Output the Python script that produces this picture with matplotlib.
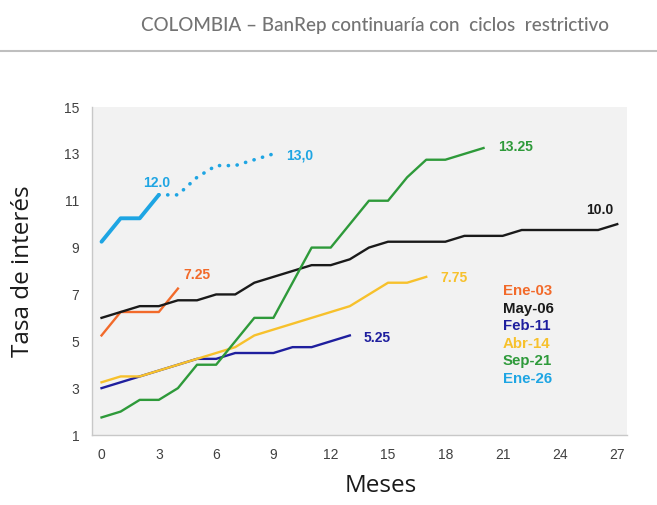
import matplotlib.pyplot as plt
from matplotlib.lines import Line2D

# monthly policy rate paths for each tightening cycle
ene03 = [5.25, 6.25, 6.25, 6.25, 7.25]
may06 = [6.0, 6.25, 6.5, 6.5, 6.75, 6.75, 7.0, 7.0, 7.5, 7.75, 8.0, 8.25, 8.25, 8.5,
         9.0, 9.25, 9.25, 9.25, 9.25, 9.5, 9.5, 9.5, 9.75, 9.75, 9.75, 9.75, 9.75, 10.0]
feb11 = [3.0, 3.25, 3.5, 3.75, 4.0, 4.25, 4.25, 4.5, 4.5, 4.5, 4.75, 4.75, 5.0, 5.25]
abr14 = [3.25, 3.5, 3.5, 3.75, 4.0, 4.25, 4.5, 4.75, 5.25, 5.5, 5.75, 6.0, 6.25, 6.5,
         7.0, 7.5, 7.5, 7.75]
sep21 = [1.75, 2.0, 2.5, 2.5, 3.0, 4.0, 4.0, 5.0, 6.0, 6.0, 7.5, 9.0, 9.0, 10.0,
         11.0, 11.0, 12.0, 12.75, 12.75, 13.0, 13.25]
ene26 = [9.25, 10.25, 10.25, 11.25]
ene26_proj = [11.25, 11.25, 12.0, 12.5, 12.5, 12.75, 13.0]  # months 3..9

names = ["Ene-03", "May-06", "Feb-11", "Abr-14", "Sep-21", "Ene-26"]
colors = ["#F26a2a", "#1a1a1a", "#1f1f9e", "#f7c12c", "#2e9a3a", "#1ea5e3"]
series = [ene03, may06, feb11, abr14, sep21]

end_labels = ["7.25", "10.0", "5.25", "7.75", "13.25"]
label_pos = [(4.97, 7.83), (26.1, 10.6), (14.44, 5.14), (18.47, 7.72), (21.7, 13.29)]

fig = plt.figure(figsize=(6.57, 5.05), dpi=100)
ax = fig.add_axes([0.140, 0.1386, 0.814, 0.6495])
ax.set_facecolor("#f2f2f2")

for vals, col in zip(series, colors[:5]):
    ax.plot(range(len(vals)), vals, color=col, lw=1.7, solid_joinstyle="round")

ax.plot(range(len(ene26)), ene26, color=colors[5], lw=2.8, solid_capstyle="round")
ax.plot(range(3, 3 + len(ene26_proj)), ene26_proj, color=colors[5], lw=2.6,
        linestyle=(0, (0.05, 2.4)), dash_capstyle="round")

for txt, (x, y), col in zip(end_labels, label_pos, colors[:5]):
    ax.text(x, y, txt, color=col, fontsize=10, fontweight="bold",
            ha="center", va="center", family="Liberation Sans")
ax.text(2.88, 11.76, "12.0", color=colors[5], fontsize=10, fontweight="bold",
        ha="center", va="center", family="Liberation Sans")
ax.text(10.36, 12.95, "13,0", color=colors[5], fontsize=10, fontweight="bold",
        ha="center", va="center", family="Liberation Sans")

# colored-text legend
for i, (n, c) in enumerate(zip(names, colors)):
    fig.text(503 / 657, 1 - (291 + 17.6 * i) / 505, n, color=c, fontsize=10.8,
             fontweight="bold", ha="left", va="center", family="Liberation Sans")

ax.set_xlim(-0.5, 27.5)
ax.set_ylim(1, 15)
ax.set_xticks(range(0, 28, 3))
ax.set_yticks(range(1, 16, 2))
ax.tick_params(length=0, labelsize=10, labelcolor="#404040", pad=9)
for lab in ax.get_xticklabels() + ax.get_yticklabels():
    lab.set_family("Liberation Sans")
for s in ["top", "right"]:
    ax.spines[s].set_visible(False)
for s in ["left", "bottom"]:
    ax.spines[s].set_color("#c8c8c8")
    ax.spines[s].set_linewidth(1)

ax.set_xlabel("Meses", fontsize=17.5, color="#1a1a1a", family="Open Sans")
ax.xaxis.set_label_coords(0.54, -0.118)
ax.set_ylabel("Tasa de interés", fontsize=17.5, color="#1a1a1a", family="Open Sans")
ax.yaxis.set_label_coords(-0.106, 0.5)

fig.text(375 / 657, 1 - 25 / 505, "COLOMBIA – BanRep continuaría con  ciclos  restrictivo",
         ha="center", va="center", fontsize=13.6, color="#737373",
         family="Lato", fontweight="medium")
fig.add_artist(Line2D([0, 1], [1 - 51 / 505, 1 - 51 / 505], color="#bfbfbf", lw=1.5,
                      transform=fig.transFigure))

fig.savefig("out.png", dpi=100)
